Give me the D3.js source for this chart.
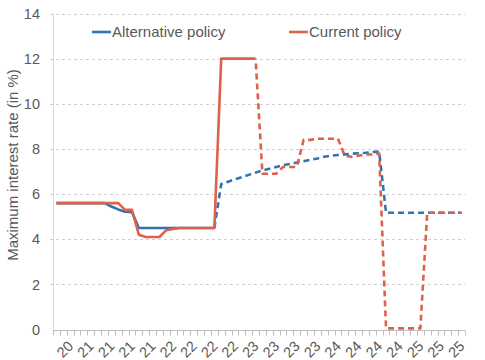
<!DOCTYPE html>
<html>
<head>
<meta charset="utf-8">
<script src="https://cdn.jsdelivr.net/npm/d3@7"></script>
<style>
  html, body { margin: 0; padding: 0; background: #fff; }
  svg { display: block; font-family: "Liberation Sans", Arial, sans-serif; }
</style>
</head>
<body>
<svg id="chart" width="485" height="360"></svg>
<script>
// Monthly categories, Oct 2020 – Sep 2025
const categories = [
  "2020-10","2020-11","2020-12",
  "2021-01","2021-02","2021-03","2021-04","2021-05","2021-06","2021-07","2021-08","2021-09","2021-10","2021-11","2021-12",
  "2022-01","2022-02","2022-03","2022-04","2022-05","2022-06","2022-07","2022-08","2022-09","2022-10","2022-11","2022-12",
  "2023-01","2023-02","2023-03","2023-04","2023-05","2023-06","2023-07","2023-08","2023-09","2023-10","2023-11","2023-12",
  "2024-01","2024-02","2024-03","2024-04","2024-05","2024-06","2024-07","2024-08","2024-09","2024-10","2024-11","2024-12",
  "2025-01","2025-02","2025-03","2025-04","2025-05","2025-06","2025-07","2025-08","2025-09"
];
// Categories that carry a label, and the label text
const labelledCategories = ["2020-12","2021-03","2021-06","2021-09","2021-12","2022-03","2022-06","2022-09","2022-12",
  "2023-03","2023-06","2023-09","2023-12","2024-03","2024-06","2024-09","2024-12","2025-03","2025-06","2025-09"];
const tickLabels = ["20","21","21","21","21","22","22","22","22","23","23","23","23","24","24","24","24","25","25","25"];

const alternativePolicy = [
  5.6,5.6,5.6,5.6,5.6,5.6,5.6,5.6,
  5.45,5.32,5.22,5.2,
  4.5,4.5,4.5,4.5,4.5,4.5,4.5,4.5,4.5,4.5,4.5,4.5,
  6.45,6.55,6.65,6.75,6.85,6.95,7.05,7.12,7.2,7.28,7.33,7.4,7.45,7.52,7.58,7.65,7.7,7.73,7.76,7.79,7.81,7.83,7.86,7.88,
  5.17,5.17,5.17,5.17,5.17,5.17,5.17,5.17,5.17,5.17,5.17,5.17
];
const currentPolicy = [
  5.6,5.6,5.6,5.6,5.6,5.6,5.6,5.6,5.6,5.6,
  5.3,5.3,
  4.2,4.1,4.1,4.1,4.4,4.45,
  4.5,4.5,4.5,4.5,4.5,4.5,
  12,12,12,12,12,12,
  6.9,6.9,6.9,
  7.2,7.2,7.2,
  8.4,8.4,8.45,8.45,8.45,8.45,
  7.7,7.65,7.7,7.75,7.75,7.8,
  0.05,0.05,0.05,0.05,0.05,0.05,
  5.17,5.17,5.17,5.17,5.17,5.17
];
// last observed (solid) month of each series; dashed afterwards
const alternativeLastActual = "2022-09";
const currentLastActual = "2023-03";
// month from which both projections coincide
const overlapFrom = "2025-03";

const yTicks = [0,2,4,6,8,10,12,14];
const seriesNames = ["Alternative policy","Current policy"];
const colors = ["#2e74b5","#dc6348"];

const svg = d3.select("#chart");
const plotLeft = 53, plotRight = 465, plotTop = 13.5, plotBottom = 329.5;

const x = d3.scaleBand().domain(categories).range([plotLeft, plotRight]).paddingInner(0).paddingOuter(0);
const y = d3.scaleLinear().domain([0, 14]).range([plotBottom, plotTop]);
const cx = c => x(c) + x.bandwidth() / 2;

// gridlines
svg.append("g").selectAll("line").data(yTicks.filter(d => d > 0)).join("line")
  .attr("x1", plotLeft - 3).attr("x2", plotRight)
  .attr("y1", d => Math.round(y(d)) + 0.5).attr("y2", d => Math.round(y(d)) + 0.5)
  .attr("stroke", "#d0d0d0").attr("stroke-width", 1).attr("stroke-dasharray", "3,3");

// y axis line
svg.append("line").attr("x1", plotLeft + 0.5).attr("x2", plotLeft + 0.5).attr("y1", plotTop).attr("y2", plotBottom)
  .attr("stroke", "#d9d9d9").attr("stroke-width", 1);

// y tick labels
svg.append("g").selectAll("text").data(yTicks).join("text")
  .attr("x", 40).attr("y", d => y(d)).attr("dy", "0.36em")
  .attr("text-anchor", "end").attr("fill", "#595959").attr("font-size", "14.5px")
  .text(d => d);

// x axis
const xAxis = d3.axisBottom(x).tickSize(5).tickFormat("");
const gx = svg.append("g").attr("transform", `translate(0,${Math.round(plotBottom) + 0.5})`).call(xAxis);
gx.select(".domain").attr("stroke", "#bfbfbf").attr("d", `M${plotLeft},0H${plotRight}`);
gx.selectAll(".tick").remove();
const bounds = categories.map(c => x(c)).concat([plotRight]);
gx.selectAll("line.t").data(bounds).join("line").attr("class", "t")
  .attr("x1", d => Math.round(d) + 0.5).attr("x2", d => Math.round(d) + 0.5)
  .attr("y1", 0).attr("y2", 5).attr("stroke", "#bfbfbf");

svg.append("g").selectAll("text").data(labelledCategories).join("text")
  .attr("transform", d => `translate(${cx(d) + 4},347) rotate(-45)`)
  .attr("text-anchor", "end").attr("fill", "#595959").attr("font-size", "14.5px")
  .text((d, i) => tickLabels[i]);

// y title
svg.append("text")
  .attr("transform", "translate(18,165) rotate(-90)")
  .attr("text-anchor", "middle").attr("fill", "#595959").attr("font-size", "15px")
  .text("Maximum interest rate (in %)");

// lines
const line = d3.line().x(d => cx(d.c)).y(d => y(d.v));
const DASH = 10;
function prefixLength(pts, upTo) {
  const k = pts.findIndex(p => p.c === upTo);
  const tmp = svg.append("path").attr("d", line(pts.slice(0, k + 1)));
  const L = tmp.node().getTotalLength();
  tmp.remove();
  return L;
}
function drawSeries(values, lastActual, color, alignTo) {
  const pts = categories.map((c, i) => ({c, v: values[i]}));
  const k = categories.indexOf(lastActual);
  svg.append("path").datum(pts.slice(0, k + 1)).attr("d", line)
    .attr("fill", "none").attr("stroke", color).attr("stroke-width", 2.6).attr("stroke-linejoin", "round");
  const dashed = pts.slice(k);
  const sOwn = prefixLength(dashed, overlapFrom);
  let offset = 0;
  if (alignTo !== undefined) offset = ((alignTo - sOwn) % DASH + DASH) % DASH;
  svg.append("path").datum(dashed).attr("d", line)
    .attr("fill", "none").attr("stroke", color).attr("stroke-width", 2.6)
    .attr("stroke-dasharray", "6,4").attr("stroke-dashoffset", offset).attr("stroke-linejoin", "round");
  return sOwn;
}
const sAlt = drawSeries(alternativePolicy, alternativeLastActual, colors[0]);
drawSeries(currentPolicy, currentLastActual, colors[1], sAlt);

// legend
const legendPos = [{x: 92, y: 32}, {x: 289, y: 32}];
seriesNames.forEach((n, i) => {
  const p = legendPos[i];
  svg.append("line").attr("x1", p.x).attr("x2", p.x + 19).attr("y1", p.y).attr("y2", p.y)
    .attr("stroke", colors[i]).attr("stroke-width", 2.6);
  svg.append("text").attr("x", p.x + 20).attr("y", p.y).attr("dy", "0.36em")
    .attr("fill", "#595959").attr("font-size", "15px").text(n);
});
</script>
</body>
</html>
